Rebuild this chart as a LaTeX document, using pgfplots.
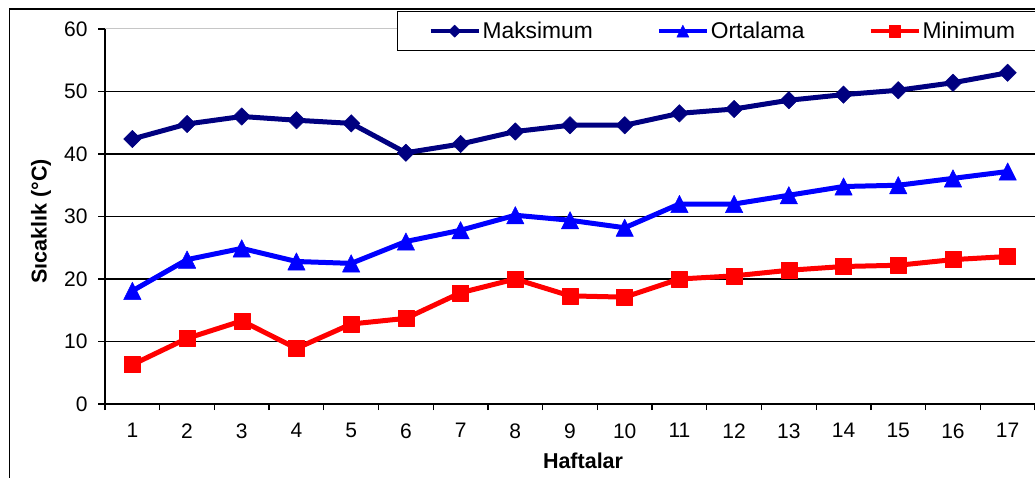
\documentclass[border=0pt]{standalone}
\usepackage{pgfplots}
\pgfplotsset{compat=1.18}
\usepackage{fontspec}
\setmainfont{Liberation Sans}

% filled diamond and centred triangle marks, as wide as they are tall
\pgfdeclareplotmark{xdiamond}{%
  \pgfpathmoveto{\pgfqpoint{0pt}{\pgfplotmarksize}}%
  \pgfpathlineto{\pgfqpoint{\pgfplotmarksize}{0pt}}%
  \pgfpathlineto{\pgfqpoint{0pt}{-\pgfplotmarksize}}%
  \pgfpathlineto{\pgfqpoint{-\pgfplotmarksize}{0pt}}%
  \pgfpathclose\pgfusepathqfillstroke}
\pgfdeclareplotmark{xtriangle}{%
  \pgfpathmoveto{\pgfqpoint{0pt}{\pgfplotmarksize}}%
  \pgfpathlineto{\pgfqpoint{\pgfplotmarksize}{-\pgfplotmarksize}}%
  \pgfpathlineto{\pgfqpoint{-\pgfplotmarksize}{-\pgfplotmarksize}}%
  \pgfpathclose\pgfusepathqfillstroke}

\definecolor{maxc}{RGB}{0,0,128}
\definecolor{avgc}{RGB}{0,0,255}
\definecolor{minc}{RGB}{255,0,0}

\begin{document}
\begin{tikzpicture}[x=1pt,y=1pt]
\begin{axis}[
  at={(105pt,73pt)}, anchor=south west,
  scale only axis, width=930pt, height=375pt,
  xmin=0.5, xmax=17.5, ymin=0, ymax=60,
  axis lines*=left,
  axis line style={line width=1.4pt, black},
  tick align=outside,
  xtick={1,...,17},
  minor xtick={0.5,1.5,...,17.5},
  major x tick style={draw=none},
  minor tick length=6pt,
  major tick length=7pt,
  every tick/.style={black, line width=1.3pt},
  every minor tick/.style={black, line width=1.3pt},
  ytick={0,10,...,50},
  extra y ticks={60},
  extra y tick style={grid style={draw=gray!45, line width=1pt}},
  ymajorgrids,
  grid style={black, line width=1.2pt},
  tick label style={font=\fontsize{21}{25}\selectfont},
  xticklabel style={yshift=-9pt},
  yticklabel style={xshift=-7pt},
  /pgf/number format/assume math mode=true,
  xlabel={\bfseries Haftalar},
  ylabel={\bfseries Sıcaklık (°C)},
  label style={font=\fontsize{21.5}{25}\selectfont},
  xlabel style={at={(axis description cs:0.514,-0.152)}, anchor=center},
  ylabel style={at={(axis description cs:-0.0688,0.487)}, anchor=center},
  legend style={at={(axis description cs:0.314,1.048)}, anchor=north west,
    draw=black, line width=1.3pt, font=\fontsize{22.8}{26}\selectfont,
    inner xsep=31pt, inner ysep=8.5pt,
    /tikz/every even column/.append style={column sep=62pt}},
  legend columns=3,
  legend image code/.code={%
    \draw[mark repeat=2, mark phase=2, #1, line width=4pt,
          every mark/.append style={scale=0.7}]
      plot coordinates {(0pt,0pt) (24pt,0pt) (48pt,0pt)};},
  every axis plot/.append style={line width=5pt, line join=round},
]
\addplot[maxc, mark=xdiamond, mark size=8.7pt,
  mark options={solid, fill=maxc, line width=0.5pt}] coordinates {
  (1,42.4) (2,44.8) (3,46.0) (4,45.4) (5,44.9) (6,40.2) (7,41.6) (8,43.6)
  (9,44.6) (10,44.6) (11,46.5) (12,47.2) (13,48.6) (14,49.5) (15,50.2)
  (16,51.4) (17,53.0)};
\addlegendentry{Maksimum}
\addplot[avgc, mark=xtriangle, mark size=8.7pt,
  mark options={solid, fill=avgc, line width=0.5pt}] coordinates {
  (1,18.1) (2,23.1) (3,24.9) (4,22.8) (5,22.5) (6,26.0) (7,27.8) (8,30.2)
  (9,29.4) (10,28.2) (11,32.0) (12,32.0) (13,33.4) (14,34.8) (15,35.0)
  (16,36.1) (17,37.2)};
\addlegendentry{Ortalama}
\addplot[minc, mark=square*, mark size=8pt,
  mark options={solid, fill=minc, line width=0.5pt}] coordinates {
  (1,6.3) (2,10.5) (3,13.3) (4,8.9) (5,12.8) (6,13.7) (7,17.8) (8,20.0)
  (9,17.3) (10,17.1) (11,20.0) (12,20.5) (13,21.4) (14,22.0) (15,22.2)
  (16,23.1) (17,23.6)};
\addlegendentry{Minimum}
\end{axis}
% chart area frame
\draw[line width=1.8pt, black] (9.5,-20) -- (9.5,468) -- (1060,468);
\pgfresetboundingbox
\useasboundingbox (0,0) rectangle (1035,477);
\end{tikzpicture}
\end{document}
